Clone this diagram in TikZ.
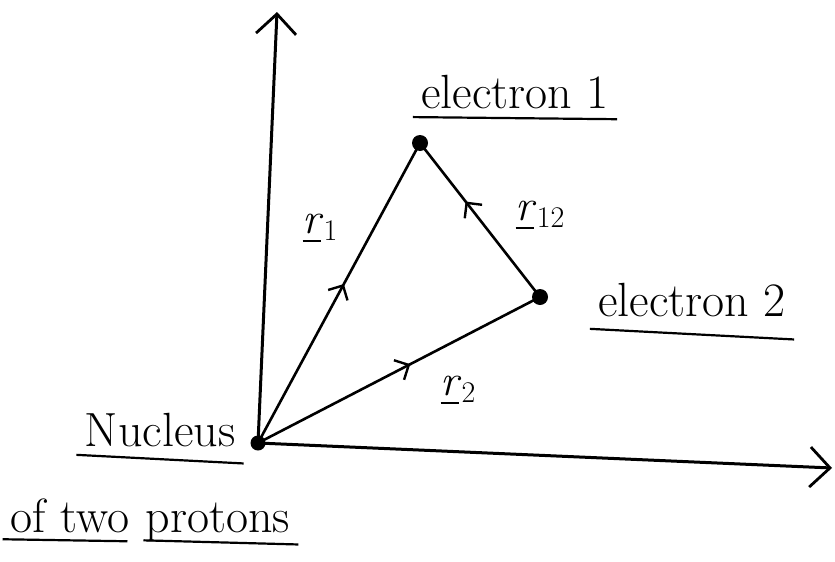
\documentclass[tikz,border=0pt]{standalone}
\usepackage{fontspec}
\usetikzlibrary{arrows.meta,decorations.markings}
\newcommand\vecr[1]{\rlap{\rule[-9pt]{18pt}{2pt}}\textit{r}\raisebox{-7pt}{\fontsize{30}{30}\selectfont #1}}
\begin{document}
\begin{tikzpicture}[x=1pt,y=-1pt,line width=2.6pt,
  lab/.style={font=\fontsize{48}{52}\selectfont,inner sep=1pt},
  vlab/.style={font=\fontsize{44}{48}\selectfont,inner sep=1pt},
  uline/.style={line width=2.2pt,shorten <=-6pt,shorten >=-6pt},
  dot/.style={circle,fill,inner sep=0pt,minimum size=15pt},
  midarrow/.style={postaction={decorate},decoration={markings,
    mark=at position #1 with {\arrow{Straight Barb[length=11pt,width=22pt,line width=2.4pt]}}}}]
  \useasboundingbox (0,0) rectangle (835,562);
  % particles
  \node[dot] (nuc) at (258,443) {};
  \node[dot,minimum width=16pt,minimum height=14pt] (e1) at (420,143) {};
  \node[dot,minimum width=16pt,minimum height=14pt] (e2) at (540,297) {};
  % axes
  \coordinate (ytip) at (277,12);
  \coordinate (xtip) at (832,468);
  \draw[line width=3pt,-{Straight Barb[length=20pt,width=40pt,line width=2.8pt]}] (nuc.center) -- (ytip);
  \draw[line width=3pt,-{Straight Barb[length=20pt,width=40pt,line width=2.8pt]}] (nuc.center) -- (xtip);
  % position vectors
  \draw[midarrow=.53] (nuc.center) -- (e1.center);
  \draw[midarrow=.54] (nuc.center) -- (e2.center);
  \draw[midarrow=.62] (e2.center) -- (e1.center);
  % labels
  \node[lab] (el1) at (515,92) {electron 1};
  \draw[uline] ([yshift=-6pt]el1.south west) -- ([yshift=-8pt]el1.south east);
  \node[lab] (el2) at (692,300) {electron 2};
  \draw[uline] ([yshift=-10pt]el2.south west) -- ([yshift=-20pt]el2.south east);
  \node[lab] (nucl) at (160,430) {Nucleus};
  \node[lab] (oftwo) at (70,516) {of two};
  \node[lab,anchor=base west] (prot) at ([xshift=12pt]oftwo.base east) {protons};
  \draw[uline] ([yshift=-6pt]nucl.south west) -- ([yshift=-14pt]nucl.south east);
  \draw[uline,shorten >=4pt] ([yshift=-4pt]oftwo.south west) -- ([yshift=-6pt]oftwo.south east);
  \draw[uline,shorten <=0pt] ([yshift=4pt]prot.south west) -- ([yshift=0pt]prot.south east);
  \node[vlab] (lr1) at (320,228) {\vecr{1}};
  \node[vlab] (lr12) at (540,215) {\vecr{12}};
  \node[vlab] (lr2) at (458,390) {\vecr{2}};
\end{tikzpicture}
\end{document}
